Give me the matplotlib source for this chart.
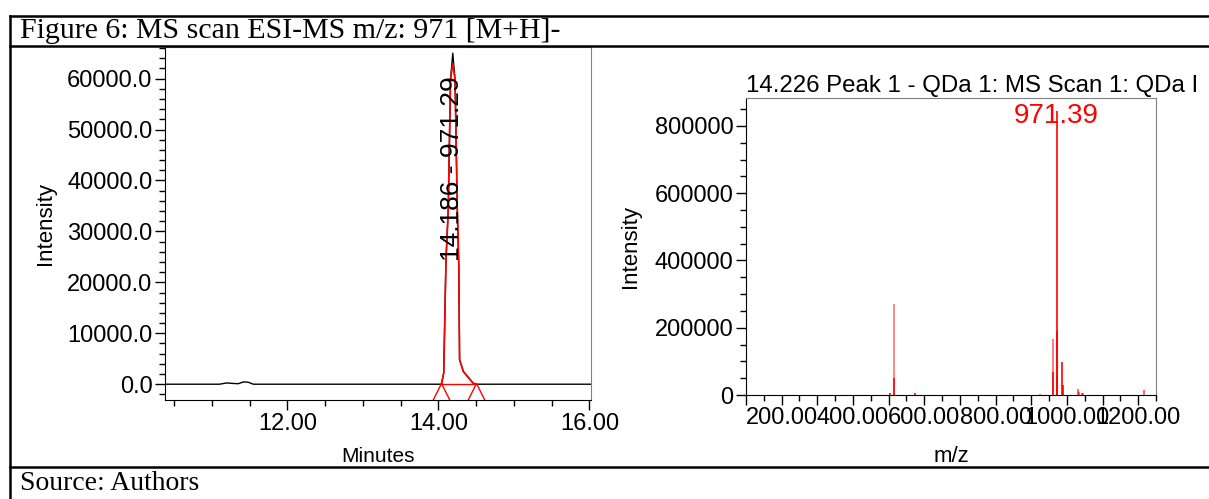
import numpy as np
import matplotlib
matplotlib.use('Agg')
import matplotlib.pyplot as plt
from matplotlib.lines import Line2D
from matplotlib.ticker import MultipleLocator, FormatStrFormatter, FuncFormatter

plt.rcParams['font.family'] = 'Liberation Sans'

# chromatogram (TIC / XIC) trace
time = [10.38, 11.10, 11.20, 11.28, 11.35, 11.42, 11.48, 11.55, 14.00, 14.04,
        14.07, 14.10, 14.13, 14.16, 14.19, 14.22, 14.25, 14.27, 14.28, 14.33,
        14.38, 14.46, 14.50, 16.02]
intensity = [0, 0, 250, 150, 100, 450, 400, 0, 0, 0,
             2200, 24400, 34200, 59700, 65000, 59700, 34200, 23000, 4800, 2500,
             1600, 200, 0, 0]
# integrated peak outline
peak_time = [14.04, 14.07, 14.10, 14.13, 14.16, 14.19, 14.22, 14.25, 14.27,
             14.28, 14.33, 14.38, 14.46, 14.50]
peak_int = [0, 2200, 24400, 34200, 59700, 63000, 59700, 34200, 23000,
            4800, 2500, 1600, 200, 0]
peak_start, peak_end = 14.04, 14.50
peak_label = '14.186 - 971.29'

# mass spectrum
mz = [504, 515, 516, 575, 924.5, 960, 961, 971.4, 972.4, 973.4, 987, 988.5,
      1030, 1033, 1041.5, 1044, 1217]
ms_int = [5000, 272000, 50000, 5000, 3000, 166000, 69000, 845000, 191000, 56000,
          99000, 30000, 18000, 10000, 7000, 5000, 16000]
ms_alpha = [1, 0.55, 1, 1, 0.6, 0.6, 1, 1, 1, 1, 1, 1, 0.7, 0.7, 0.7, 0.7, 0.7]
base_peak = '971.39'

W, H = 1209, 499
fig = plt.figure(figsize=(W/100, H/100), dpi=100)

def fx(px): return px / W
def fy(py): return 1 - py / H

# ---- left: chromatogram
ax1 = fig.add_axes([fx(165), fy(400), fx(591) - fx(165), fy(47) - fy(400)])
ax1.plot(time, intensity, color='black', lw=1)
ax1.plot(peak_time, peak_int, color='red', lw=1.2)
ax1.plot([peak_start, peak_end], [0, 0], color='red', lw=1)
ax1.plot([peak_start, peak_end], [-1500, -1500], ls='none', marker='^', ms=13,
         mfc='none', mec='red', mew=1)
ax1.text(14.185, 42300, peak_label, rotation=90, ha='center', va='center', fontsize=19)
ax1.set_xlim(10.38, 16.02)
ax1.set_ylim(-3100, 66200)
ax1.xaxis.set_major_locator(MultipleLocator(2))
ax1.xaxis.set_minor_locator(MultipleLocator(0.5))
ax1.xaxis.set_major_formatter(FormatStrFormatter('%.2f'))
ax1.yaxis.set_major_locator(MultipleLocator(10000))
ax1.yaxis.set_minor_locator(MultipleLocator(2000))
ax1.yaxis.set_major_formatter(FormatStrFormatter('%.1f'))
ax1.set_xlabel('Minutes', fontsize=15, labelpad=9)
ax1.set_ylabel('Intensity', fontsize=16, labelpad=8)

# ---- right: mass spectrum
ax2 = fig.add_axes([fx(746), fy(395), fx(1156) - fx(746), fy(98) - fy(395)])
for m, v, a in zip(mz, ms_int, ms_alpha):
    ax2.vlines(m, 0, v, color='red', lw=1.2, alpha=a)
ax2.text(971.4, 830000, base_peak, color='red', ha='center', va='center', fontsize=20)
ax2.set_xlim(100, 1250)
ax2.set_ylim(0, 883000)
ax2.xaxis.set_major_locator(MultipleLocator(100))
ax2.xaxis.set_minor_locator(MultipleLocator(50))
ax2.xaxis.set_major_formatter(FuncFormatter(lambda v, p: '%.2f' % v if v % 200 == 0 else ''))
ax2.yaxis.set_major_locator(MultipleLocator(200000))
ax2.yaxis.set_minor_locator(MultipleLocator(50000))
ax2.yaxis.set_major_formatter(FormatStrFormatter('%d'))
ax2.set_xlabel('m/z', fontsize=16, labelpad=12)
ax2.set_ylabel('Intensity', fontsize=16, labelpad=10)
ax2.set_title('14.226 Peak 1 - QDa 1: MS Scan 1: QDa I', fontsize=17.3, loc='left', pad=4)

for ax in (ax1, ax2):
    ax.spines['top'].set_color('grey')
    ax.spines['right'].set_color('grey')
    ax.tick_params(which='major', direction='out', length=7, width=1, labelsize=17, pad=2)
    ax.tick_params(which='minor', direction='out', length=4, width=1)

# ---- document table frame and captions
for x0, x1, y0, y1 in [(10, W, 16, 16), (10, W, 46, 46), (10, W, 467, 467), (10, 10, 16, H)]:
    fig.add_artist(Line2D([fx(x0), fx(x1)], [fy(y0), fy(y1)], color='black', lw=1.8))
fig.text(fx(20), fy(31), 'Figure 6: MS scan ESI-MS m/z: 971 [M+H]-', family='Liberation Serif',
         fontsize=21.5, va='center')
fig.text(fx(20), fy(484), 'Source: Authors', family='Liberation Serif', fontsize=20, va='center')

fig.savefig('out.png', dpi=100)
